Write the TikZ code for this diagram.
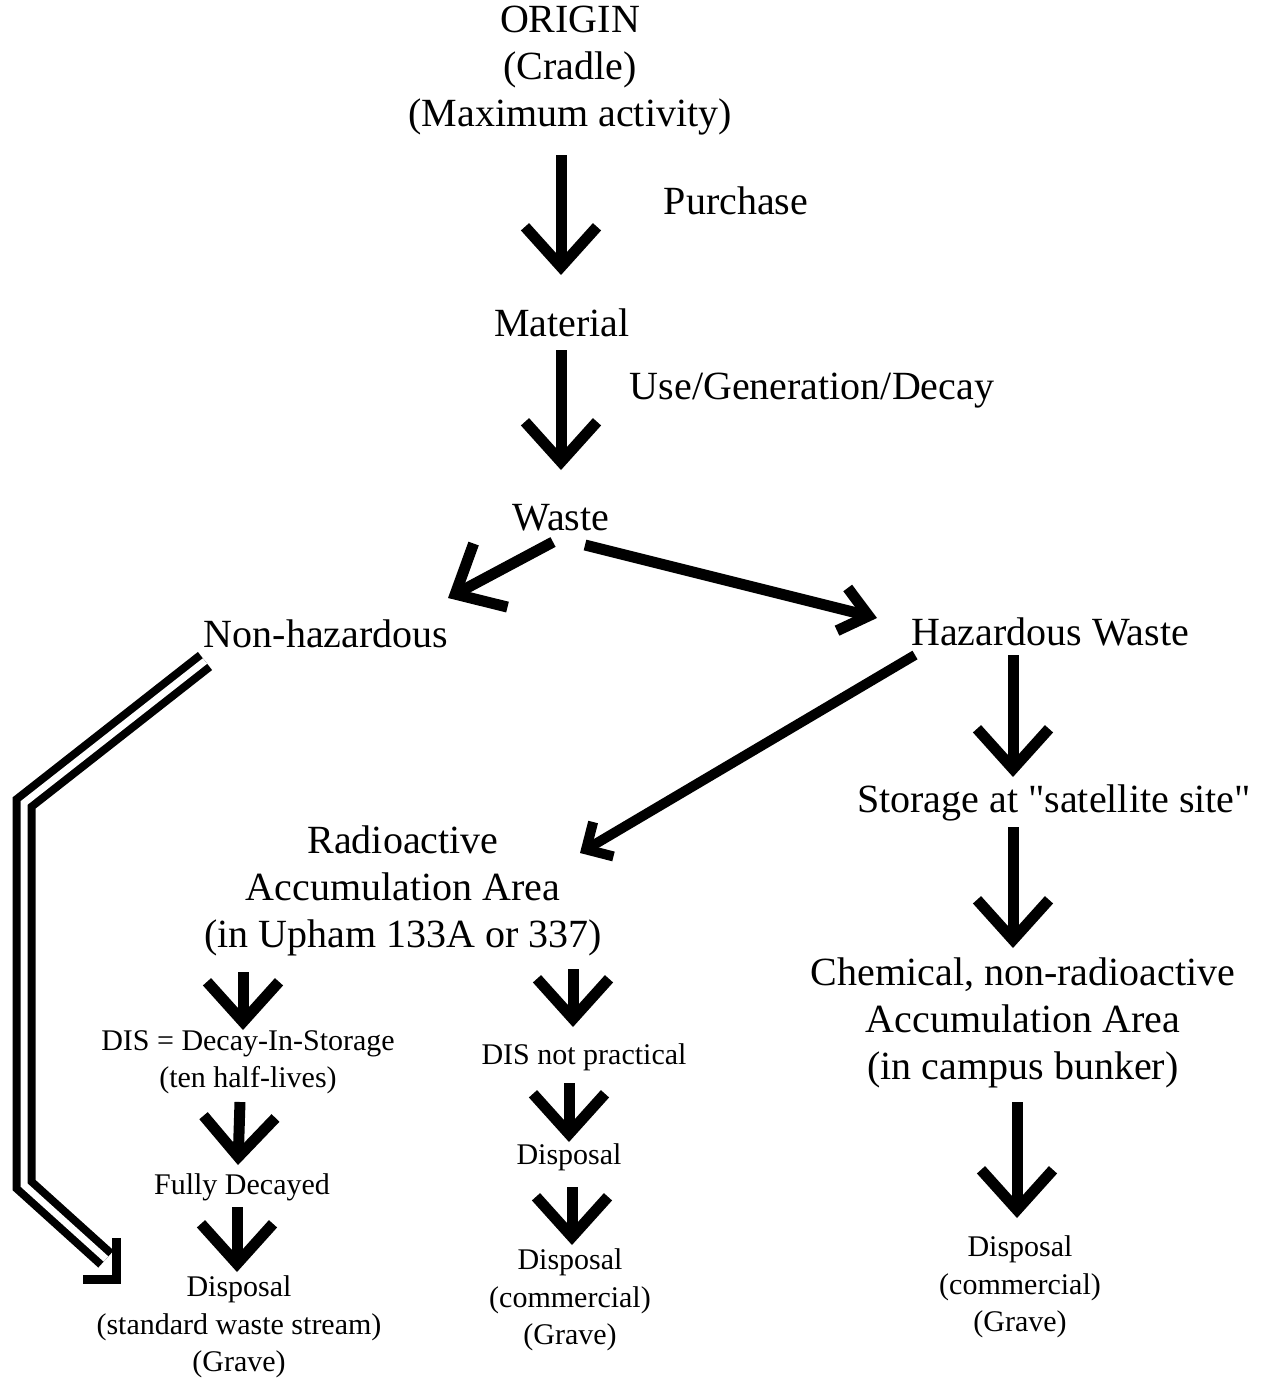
\documentclass[tikz,border=0pt]{standalone}
\usepackage{fontspec}
\setmainfont{Liberation Serif}
\newfontfamily\nomap{Liberation Serif}
\usetikzlibrary{arrows.meta}
\begin{document}
\begin{tikzpicture}[x=1pt,y=-1pt,
 big/.style={font=\fontsize{40}{47}\selectfont, align=center, inner sep=0pt},
 small/.style={font=\fontsize{30}{37.5}\selectfont, align=center, inner sep=0pt},
 arr/.style={line width=11pt, -{Straight Barb[length=40pt,width=72pt]}},
 arrm/.style={line width=11pt, -{Straight Barb[length=27pt,width=44pt]}},
 arrs/.style={line width=10pt, -{Straight Barb[length=20pt,width=40pt]}},
 dbl/.style={line width=8pt, double, double distance=7pt},
 dblhead/.style={line width=9pt, miter limit=10}]
\fill[white] (0,0) rectangle (1273,1382);
\useasboundingbox (0,0) rectangle (1273,1382);

\node[big] (origin) at (570,71) {ORIGIN\\(Cradle)\\(Maximum activity)};
\node[big] (purchase) at (736,201) {Purchase};
\node[big] (material) at (562,323) {Material};
\node[big] (use) at (812,391) {Use/Generation/Decay};
\node[big] (waste) at (561,518) {Waste};
\node[big] (nh) at (326,634) {Non-hazardous};
\node[big] (haz) at (1050,632) {Hazardous Waste};
\node[big] (stor) at (1054,803) {Storage at {\nomap"}satellite site{\nomap"}};
\node[big] (rad) at (403,891) {Radioactive\\Accumulation Area\\(in Upham 133A or 337)};
\node[big] (chem) at (1023,1023) {Chemical, non-radioactive\\Accumulation Area\\(in campus bunker)};
\node[small] (dis) at (248,1062) {DIS = Decay-In-Storage\\(ten half-lives)};
\node[small] (fully) at (242,1187) {Fully Decayed};
\node[small] (disp1) at (239,1327) {Disposal\\(standard waste stream)\\(Grave)};
\node[small] (disnp) at (584,1057) {DIS not practical};
\node[small] (disp) at (569,1157) {Disposal};
\node[small] (disp2) at (570,1300) {Disposal\\(commercial)\\(Grave)};
\node[small] (disp3) at (1020,1287) {Disposal\\(commercial)\\(Grave)};

\draw[arr] ([shift={(-9,84)}]origin.center) -- ([shift={(-1,-48)}]material.center);
\draw[arr] ([shift={(-1,27)}]material.center) -- ([shift={(0,-48)}]waste.center);
\draw[arr] ([shift={(-8,24)}]waste.center) -- ([shift={(122,-36)}]nh.center);
\draw[arrm] ([shift={(24,27)}]waste.center) -- ([shift={(-173,-14)}]haz.center);
\draw[arrs] ([shift={(-135,23)}]haz.center) -- ([shift={(177,-38)}]rad.center);
\draw[arr] ([shift={(-37,23)}]haz.center) -- ([shift={(-41,-26)}]stor.center);
\draw[arr] ([shift={(-41,24)}]stor.center) -- ([shift={(-10,-75)}]chem.center);
\draw[arr] ([shift={(-6,79)}]chem.center) -- ([shift={(-3,-69)}]disp3.center);
\draw[arr] ([shift={(-160,81)}]rad.center) -- ([shift={(-5,-32)}]dis.center);
\draw[arr] ([shift={(-8,40)}]dis.center) -- ([shift={(-4,-22)}]fully.center);
\draw[arr] ([shift={(-5,20)}]fully.center) -- ([shift={(-2,-55)}]disp1.center);
\draw[arr] ([shift={(170,78)}]rad.center) -- ([shift={(-11,-30)}]disnp.center);
\draw[arr] ([shift={(-15,26)}]disnp.center) -- ([shift={(0,-15)}]disp.center);
\draw[arr] ([shift={(3,30)}]disp.center) -- ([shift={(2,-55)}]disp2.center);

\coordinate (dc1) at (24,803);
\coordinate (dc2) at (24,1185);
\draw[dbl] ([shift={(-121,27)}]nh.center) -- (dc1) -- (dc2) -- ([shift={(-133,-68)}]disp1.center);
\draw[dblhead] ([shift={(-123,-89)}]disp1.center) -- ([shift={(-123,-48)}]disp1.center) -- ([shift={(-156,-48)}]disp1.center);
\end{tikzpicture}
\end{document}
